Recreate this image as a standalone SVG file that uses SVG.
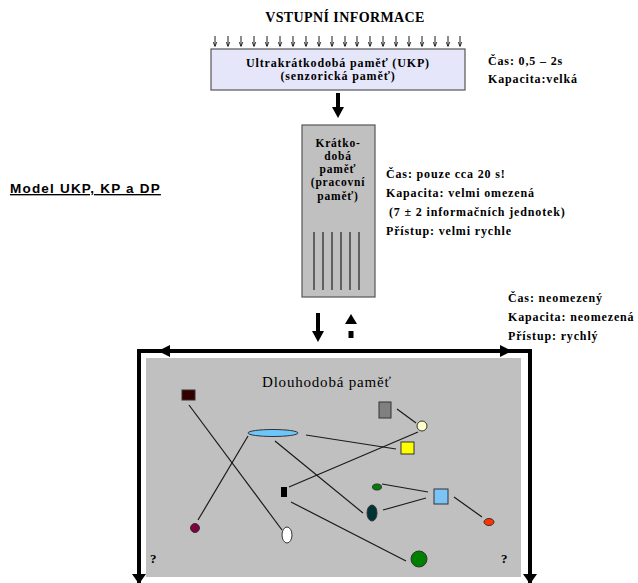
<svg xmlns="http://www.w3.org/2000/svg" width="638" height="583" viewBox="0 0 638 583">
<style>
.b{font-family:"Liberation Serif","Times New Roman",serif;font-weight:bold;fill:#000}
.s11{font-size:12px;letter-spacing:0.85px}
.s10{font-size:11.5px;letter-spacing:0.8px}
.c{text-anchor:middle}
.ln{stroke:#1a1a1a;stroke-width:1.2;fill:none}
.nd{stroke:#333;stroke-width:1}
.thick{stroke:#000;stroke-width:4;fill:none}
</style>
<defs>
<marker id="sa" viewBox="0 0 10 10" refX="9" refY="5" markerWidth="5" markerHeight="5" orient="auto" markerUnits="userSpaceOnUse">
<path d="M0,1 L10,5 L0,9" fill="none" stroke="#000" stroke-width="1.5"/>
</marker>
</defs>
<rect width="638" height="583" fill="#fff"/>

<text class="b c" x="345" y="22" font-size="14" letter-spacing="0.4">VSTUPNÍ INFORMACE</text>

<g id="input-arrows" stroke="#000" stroke-width="0.9">
<line x1="215" y1="36" x2="215" y2="46" marker-end="url(#sa)"/>
<line x1="228" y1="36" x2="228" y2="46" marker-end="url(#sa)"/>
<line x1="241" y1="36" x2="241" y2="46" marker-end="url(#sa)"/>
<line x1="254" y1="36" x2="254" y2="46" marker-end="url(#sa)"/>
<line x1="267" y1="36" x2="267" y2="46" marker-end="url(#sa)"/>
<line x1="280" y1="36" x2="280" y2="46" marker-end="url(#sa)"/>
<line x1="293" y1="36" x2="293" y2="46" marker-end="url(#sa)"/>
<line x1="306" y1="36" x2="306" y2="46" marker-end="url(#sa)"/>
<line x1="319" y1="36" x2="319" y2="46" marker-end="url(#sa)"/>
<line x1="332" y1="36" x2="332" y2="46" marker-end="url(#sa)"/>
<line x1="345" y1="36" x2="345" y2="46" marker-end="url(#sa)"/>
<line x1="357" y1="36" x2="357" y2="46" marker-end="url(#sa)"/>
<line x1="370" y1="36" x2="370" y2="46" marker-end="url(#sa)"/>
<line x1="383" y1="36" x2="383" y2="46" marker-end="url(#sa)"/>
<line x1="396" y1="36" x2="396" y2="46" marker-end="url(#sa)"/>
<line x1="409" y1="36" x2="409" y2="46" marker-end="url(#sa)"/>
<line x1="422" y1="36" x2="422" y2="46" marker-end="url(#sa)"/>
<line x1="435" y1="36" x2="435" y2="46" marker-end="url(#sa)"/>
<line x1="448" y1="36" x2="448" y2="46" marker-end="url(#sa)"/>
<line x1="460" y1="36" x2="460" y2="46" marker-end="url(#sa)"/>
</g>

<g id="ukp">
<rect x="211" y="49" width="254" height="41" fill="#e6e6fa" stroke="#555" stroke-width="1.2"/>
<text class="b s11 c" x="338" y="67">Ultrakrátkodobá paměť (UKP)</text>
<text class="b s11 c" x="338" y="80">(senzorická paměť)</text>
</g>
<g id="ukp-info">
<text class="b s11" x="488" y="65">Čas: 0,5 – 2s</text>
<text class="b s11" x="488" y="83">Kapacita:velká</text>
</g>

<g id="kp">
<rect x="302" y="125" width="73" height="172" fill="#c0c0c0" stroke="#555" stroke-width="1.2"/>
<text class="b s10 c" x="338" y="147">Krátko-</text>
<text class="b s10 c" x="338" y="160">dobá</text>
<text class="b s10 c" x="338" y="173">paměť</text>
<text class="b s10 c" x="338" y="186">(pracovní</text>
<text class="b s10 c" x="338" y="199.5">paměť)</text>
<g stroke="#000" stroke-width="1">
<line x1="314" y1="232" x2="314" y2="290"/>
<line x1="323" y1="232" x2="323" y2="290"/>
<line x1="332" y1="232" x2="332" y2="290"/>
<line x1="341" y1="232" x2="341" y2="290"/>
<line x1="350" y1="232" x2="350" y2="290"/>
<line x1="359" y1="232" x2="359" y2="290"/>
</g>
</g>
<g id="kp-info">
<text class="b s11" x="386" y="178">Čas: pouze cca 20 s!</text>
<text class="b s11" x="386" y="197">Kapacita: velmi omezená</text>
<text class="b s11" x="389" y="216">(7 ± 2 informačních jednotek)</text>
<text class="b s11" x="386" y="235">Přístup: velmi rychle</text>
</g>

<text id="model-title" x="10" y="193" font-family="Liberation Sans, Arial, sans-serif" font-weight="bold" font-size="13.5" letter-spacing="1.2" text-decoration="underline">Model UKP, KP a DP</text>

<g id="dp-info">
<text class="b s11" x="508" y="302">Čas: neomezený</text>
<text class="b s11" x="508" y="321">Kapacita: neomezená</text>
<text class="b s11" x="508" y="340">Přístup: rychlý</text>
</g>

<g id="dp">
<rect x="146" y="358" width="375" height="219" fill="#c0c0c0"/>
<text x="262" y="387" font-family="Liberation Serif, Times New Roman, serif" font-size="15" letter-spacing="0.8">Dlouhodobá paměť</text>
<text class="b" x="150" y="563" font-size="13">?</text>
<text class="b" x="501" y="563" font-size="13">?</text>
</g>

<g id="connectors">
<path d="M338,93 V108" stroke="#000" stroke-width="4"/>
<path d="M332,107 L344,107 L338,118 z" fill="#000"/>
<path d="M318,313 V332" stroke="#000" stroke-width="4"/>
<path d="M312,331 L324,331 L318,342 z" fill="#000"/>
<path d="M345,324 L357,324 L351,314 z" fill="#000"/>
<rect x="348.5" y="331" width="5" height="7" fill="#000"/>
<path d="M139,583 V351 H500" class="thick"/>
<path d="M530,583 V351 H500" class="thick"/>
<path d="M158,351 L170,345 L170,357 z" fill="#000"/>
<path d="M512,351 L500,345 L500,357 z" fill="#000"/>
<path d="M132,574 L146,574 L139,584 z" fill="#000"/>
<path d="M523,574 L537,574 L530,584 z" fill="#000"/>
<line class="ln" x1="397" y1="409" x2="416" y2="423"/>
<line class="ln" x1="306" y1="435" x2="396" y2="449"/>
<line class="ln" x1="418" y1="432" x2="289" y2="487"/>
<line class="ln" x1="275" y1="441" x2="363" y2="513"/>
<line class="ln" x1="382" y1="484" x2="428" y2="492"/>
<line class="ln" x1="383" y1="510" x2="426" y2="498"/>
<line class="ln" x1="454" y1="497" x2="482" y2="517"/>
<line class="ln" x1="291" y1="502" x2="406" y2="561"/>
<line class="ln" x1="248" y1="436" x2="198" y2="520"/>
<line class="ln" x1="189" y1="405" x2="282" y2="530"/>
</g>

<g id="n-brown"><rect class="nd" x="182" y="390" width="13" height="10" fill="#330000"/></g>
<g id="n-gray"><rect class="nd" x="379" y="402" width="12" height="16" fill="#808080"/></g>
<g id="n-ycircle"><circle class="nd" cx="422" cy="426" r="5" fill="#ffffcc"/></g>
<g id="n-bellipse"><ellipse class="nd" cx="273" cy="433" rx="25" ry="3.5" fill="#6cc6fa"/></g>
<g id="n-ysquare"><rect class="nd" x="401" y="442" width="13" height="12" fill="#ffff00"/></g>
<g id="n-black"><rect x="281" y="487" width="6" height="10" fill="#000"/></g>
<g id="n-gsmall"><ellipse class="nd" cx="377" cy="487" rx="4.5" ry="3" fill="#008000"/></g>
<g id="n-bsquare"><rect class="nd" x="434" y="489" width="14" height="15" fill="#7cc4f8"/></g>
<g id="n-dark"><ellipse class="nd" cx="372" cy="513" rx="5" ry="8" fill="#003333"/></g>
<g id="n-red"><ellipse class="nd" cx="489" cy="522" rx="5" ry="3.5" fill="#ff3300"/></g>
<g id="n-maroon"><circle class="nd" cx="195" cy="528" r="4.5" fill="#800040"/></g>
<g id="n-white"><ellipse class="nd" cx="287" cy="535" rx="5" ry="8" fill="#fff"/></g>
<g id="n-green"><circle class="nd" cx="419" cy="559" r="8" fill="#008000"/></g>
</svg>
